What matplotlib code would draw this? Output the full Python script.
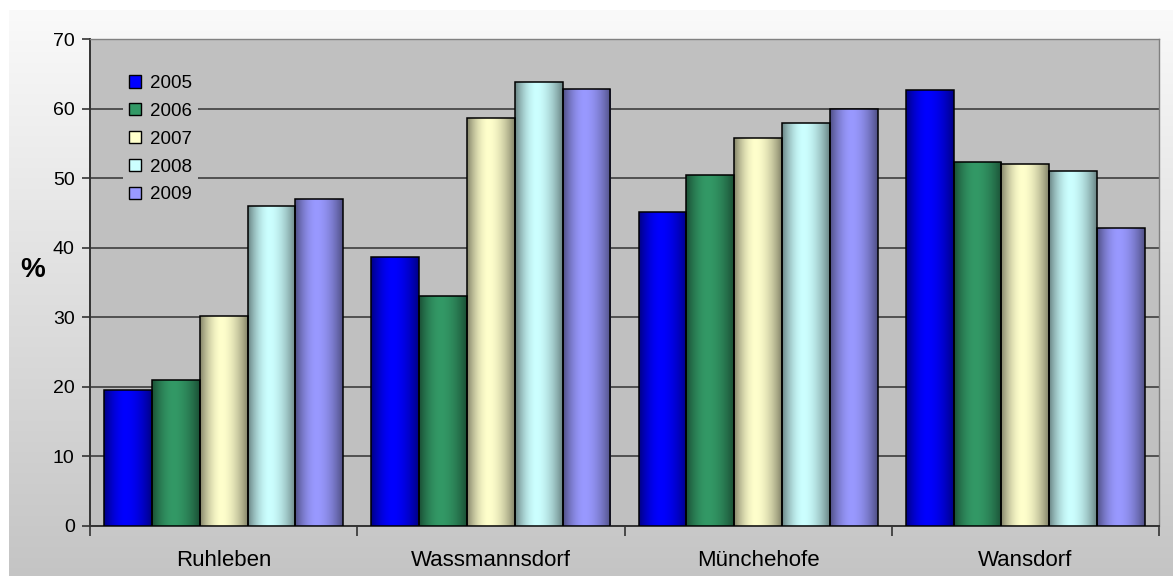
import matplotlib.pyplot as plt
import matplotlib.colors as mcolors
import numpy as np

plt.rcParams['font.family'] = ['Liberation Sans', 'DejaVu Sans']

# data
sites = ['Ruhleben', 'Wassmannsdorf', 'Münchehofe', 'Wansdorf']
years = ['2005', '2006', '2007', '2008', '2009']
v2005 = [19.5, 38.7, 45.2, 62.6]
v2006 = [21.0, 33.1, 50.4, 52.3]
v2007 = [30.2, 58.6, 55.8, 52.0]
v2008 = [46.0, 63.8, 57.9, 51.0]
v2009 = [47.0, 62.8, 60.0, 42.8]
series = [v2005, v2006, v2007, v2008, v2009]
colors = ['#0000ff', '#339966', '#ffffcc', '#ccffff', '#9999ff']

W, H = 1173, 576
fig = plt.figure(figsize=(W / 100, H / 100), dpi=100)
fig.patch.set_facecolor('white')

# outer chart area with vertical gradient
bg = fig.add_axes([9 / W, 0, 1 - 9 / W, 1 - 10 / H])
bg.axis('off')
grad = np.linspace(0.98, 0.77, 256).reshape(-1, 1)
bg.imshow(np.dstack([grad, grad, grad]), aspect='auto', extent=(0, 1, 0, 1))
bg.set_xlim(0, 1); bg.set_ylim(0, 1)

ax = fig.add_axes([90 / W, 50 / H, (1159 - 90) / W, (526 - 39) / H])
ax.set_facecolor('#c0c0c0')

def shade(c, n=96):
    # cylinder-like shading across a bar, brightest a bit left of centre
    rgb = np.array(mcolors.to_rgb(c))
    t = np.linspace(0, 1, n)
    u = np.where(t < 0.45, (0.45 - t) / 0.45, (t - 0.45) / 0.55)
    f = 1 - 0.48 * u ** 1.8
    return (rgb[None, :] * f[:, None])[None, :, :]

x = np.arange(len(sites))
bw = 0.179
for i, (vals, c, yr) in enumerate(zip(series, colors, years)):
    pos = x + (i - 2) * bw
    bars = ax.bar(pos, vals, width=bw, color=c, edgecolor='black',
                  linewidth=1.1, label=yr, zorder=3)
    img = shade(c)
    for b in bars:
        bx, by = b.get_x(), b.get_y()
        im = ax.imshow(img, aspect='auto', zorder=3.5, interpolation='bilinear',
                       extent=(bx, bx + b.get_width(), by, by + b.get_height()))
        im.set_clip_path(b)
        b.set_facecolor('none')
        b.set_zorder(4)

ax.set_xlim(-0.5, 3.5)
ax.set_ylim(0, 70)
ax.set_yticks(range(0, 71, 10))
ax.yaxis.grid(True, color='#333333', linewidth=1.1, zorder=1)
ax.set_axisbelow(True)

ax.set_xticks(x)
ax.set_xticklabels(sites, fontsize=16)
ax.set_xticks(np.arange(-0.5, 4, 1), minor=True)
ax.tick_params(axis='x', which='major', length=0, pad=17)
ax.tick_params(axis='x', which='minor', length=7, width=1.2, color='#333333')
ax.tick_params(axis='y', length=6, width=1.2, color='#333333', labelsize=14, pad=5)

for s in ['top', 'right']:
    ax.spines[s].set_color('#808080')
    ax.spines[s].set_linewidth(1.0)
for s in ['left', 'bottom']:
    ax.spines[s].set_color('#333333')
    ax.spines[s].set_linewidth(1.4)

ax.set_ylabel('%', rotation=0, fontsize=20, fontweight='bold')
ax.yaxis.set_label_coords((33 - 90) / (1159 - 90), (526 - 283) / (526 - 39))

leg = ax.legend(loc='upper left', bbox_to_anchor=(0.022, 0.957), frameon=True,
                facecolor='#c0c0c0', edgecolor='none', framealpha=1,
                fontsize=13.5, handlelength=0.65, handleheight=0.65,
                handletextpad=0.5, labelspacing=0.58, borderpad=0.3)
for h, c in zip(leg.legend_handles, colors):
    h.set_facecolor(c)
    h.set_edgecolor('black')
    h.set_linewidth(1.0)
leg.set_zorder(2)

fig.savefig('out.png', dpi=100)
